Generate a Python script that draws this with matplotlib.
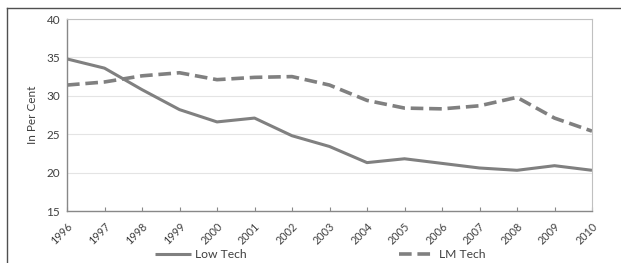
import matplotlib
matplotlib.use("Agg")
import matplotlib.pyplot as plt
from matplotlib.lines import Line2D

years = ["1996", "1997", "1998", "1999", "2000", "2001", "2002", "2003",
         "2004", "2005", "2006", "2007", "2008", "2009", "2010"]
low_tech = [34.8, 33.6, 30.8, 28.2, 26.6, 27.1, 24.8, 23.4,
            21.3, 21.8, 21.2, 20.6, 20.3, 20.9, 20.3]
lm_tech = [31.4, 31.8, 32.6, 33.0, 32.1, 32.4, 32.5, 31.4,
           29.4, 28.4, 28.3, 28.7, 29.8, 27.1, 25.4]

plt.rcParams['font.family'] = ['Lato', 'DejaVu Sans']

W, H = 621, 263
fig = plt.figure(figsize=(W / 100, H / 100), dpi=100)
ax = fig.add_axes([67 / W, 1 - 211 / H, (592 - 67) / W, (211 - 19) / H])

col = '#808080'
x = list(range(len(years)))
ax.plot(x, low_tech, color=col, lw=2.2, solid_capstyle='butt', label='Low Tech')
ax.plot(x, lm_tech, color=col, lw=2.6, ls=(0, (3.5, 1.6)), label='LM Tech')

ax.set_xlim(0, len(years) - 1)
ax.set_ylim(15, 40)
ax.set_yticks([15, 20, 25, 30, 35, 40])
ax.set_xticks(x)
ax.set_xticklabels(years, rotation=45, ha='right', rotation_mode='anchor', fontsize=7.8, color='#404040')
ax.tick_params(axis='y', labelsize=8.5, labelcolor='#404040', length=0, pad=5)
ax.tick_params(axis='x', direction='in', length=3, color='#888888', pad=7)
ax.set_ylabel('In Per Cent', fontsize=8.5, color='#404040', labelpad=6)
ax.grid(axis='y', color='#e4e4e4', lw=0.8)
ax.set_axisbelow(True)
for s in ['left', 'bottom']:
    ax.spines[s].set_color('#888888')
    ax.spines[s].set_linewidth(1.0)
for s in ['top', 'right']:
    ax.spines[s].set_color('#c0c0c0')
    ax.spines[s].set_linewidth(0.8)

# outer frame (left and top edges)
fig.add_artist(Line2D([7 / W, 7 / W], [0, 1 - 8 / H], transform=fig.transFigure, color='#505050', lw=1.0))
fig.add_artist(Line2D([7 / W, 1], [1 - 8 / H, 1 - 8 / H], transform=fig.transFigure, color='#505050', lw=1.0))

fig.legend(loc='center', bbox_to_anchor=(320 / W, 1 - 255 / H), ncol=2, frameon=False,
           fontsize=8.7, handlelength=3.0, handletextpad=0.3, columnspacing=12.6,
           labelcolor='#404040')

fig.savefig('out.png', dpi=100)
